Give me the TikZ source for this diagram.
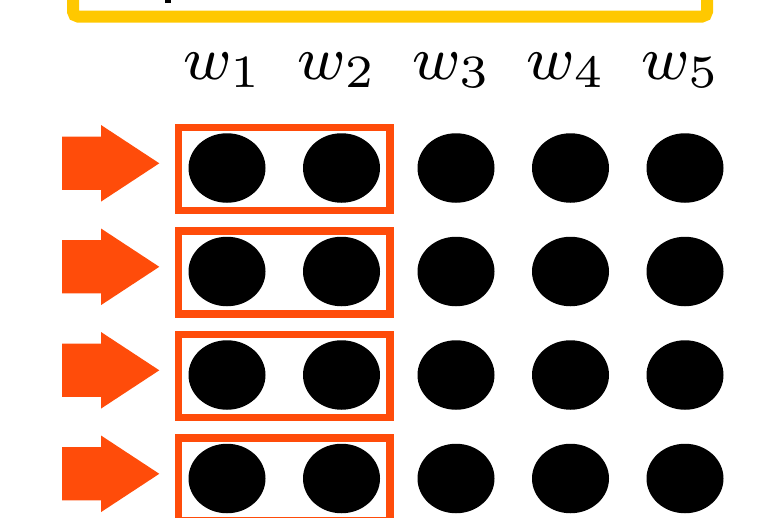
\documentclass[tikz,border=0pt]{standalone}
\usepackage{tikz}
\usetikzlibrary{shapes.geometric,fit,positioning}

\definecolor{winorange}{RGB}{255,76,10}
\definecolor{frameyellow}{RGB}{255,200,0}

\begin{document}
\begin{tikzpicture}[
    x=1pt, y=-1pt,
    dot/.style={
        ellipse, fill=black, inner sep=0pt,
        minimum width=77pt, minimum height=69.5pt
    },
    wlabel/.style={
        anchor=base, inner sep=0pt,
        font=\footnotesize, scale=7.7
    },
    window/.style={
        draw=winorange, line width=7.5pt,
        inner xsep=10pt, inner ysep=6.5pt, yshift=-1pt
    },
    frame/.style={draw=frameyellow, line width=12pt, rounded corners=5pt},
    blockarrow/.style={fill=winorange}
]

\useasboundingbox (0,0) rectangle (782,517);
\clip (0,0) rectangle (782,517);

% 1. Frame cut at the top
\draw[frame] (73,-40) rectangle (707,16.5);
\fill (165,0) rectangle (171,3);

% 2. Word labels
\foreach \c/\x in {1/227,2/341.5,3/456,4/570.5,5/685}
    \node[wlabel] (w\c) at (\x-4,79) {$w_{\c}$};

% 3. Rows of dots, window and arrow
\foreach \r/\y in {1/168,2/271.5,3/375,4/478.5}{
    \foreach \c/\x in {1/227,2/341.5,3/456,4/570.5,5/685}
        \node[dot] (d\r\c) at (\x,\y) {};
    \node[window, fit=(d\r1)(d\r2)] (win\r) {};
    \fill[blockarrow] (62,\y-31.3) -- (101,\y-31.3) -- (101,\y-43)
        -- (159.3,\y-4.7) -- (101,\y+33.6) -- (101,\y+21.9)
        -- (62,\y+21.9) -- cycle;
}

\end{tikzpicture}
\end{document}
